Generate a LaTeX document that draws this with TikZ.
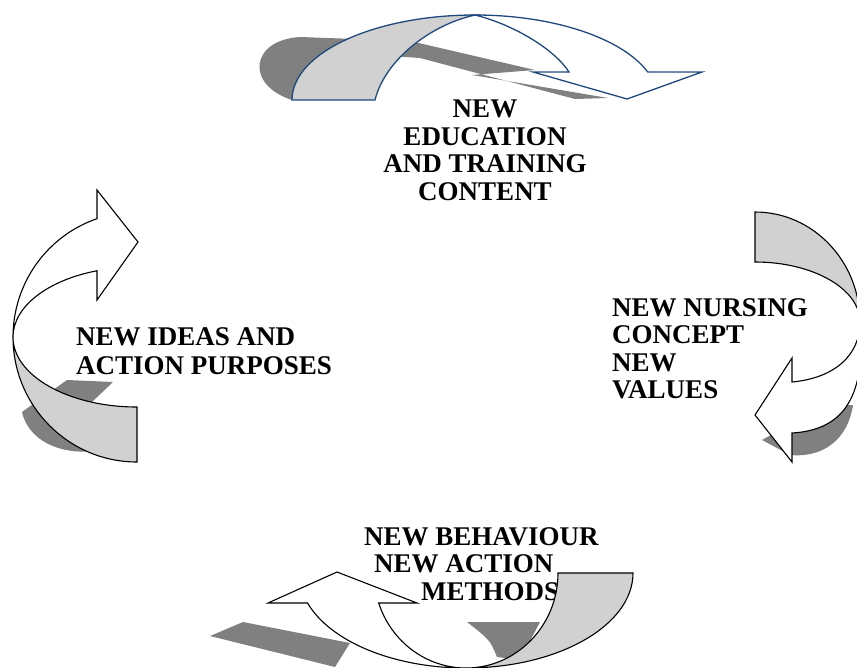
\documentclass[tikz,border=0pt]{standalone}
\usepackage{fontspec}
\setmainfont{Liberation Serif}
\usetikzlibrary{calc}
\definecolor{bandgray}{gray}{0.82}
\definecolor{shadegray}{gray}{0.5}
\definecolor{darkblue}{RGB}{31,73,125}
\begin{document}
\begin{tikzpicture}[x=1pt,y=-1pt,
	every node/.style={font=\bfseries\fontsize{27}{27.5}\selectfont, inner sep=0pt},
	band/.style={draw=black, line width=1.1pt, line join=miter},
	topband/.style={draw=darkblue, line width=1.3pt, line join=miter}]

\useasboundingbox (0,0) rectangle (857,667);

% centres of the four curved arrows
\coordinate (ct) at (475,100);
\coordinate (cl) at (137,337);
\coordinate (cr) at (755,322);
\coordinate (cb) at (466,573);

% shadows
\fill[shadegray] (292,100) .. controls (245,85) and (250,40) .. (300,37)
	-- (410,41) -- (535,70) -- (472,75) -- (608,98) -- (575,99)
	-- (420,58) -- (392,56) -- (370,99) -- cycle;
\fill[shadegray] (67,380) -- (113,382) -- (92,402) -- (120,420) -- (100,450)
	.. controls (70,456) and (30,446) .. (22,412) -- cycle;
\fill[shadegray] (762,440) -- (790,455) .. controls (825,458) and (848,438) .. (853,405)
	-- (835,405) -- (780,430) -- cycle;
\fill[shadegray] (210,636) -- (243,622) -- (350,643) -- (335,667) -- cycle;
\fill[shadegray] (467,622) -- (540,622) -- (520,660) -- (497,657)
	.. controls (490,640) .. cycle;

% texts
\node[align=center, anchor=north] (educ) at (485,100)
	{NEW\\EDUCATION\\AND TRAINING\\CONTENT};
\node[align=left, anchor=north west] (ideas) at (76,327)
	{NEW IDEAS AND\\[2pt]ACTION PURPOSES};
\node[align=left, anchor=north west] (nursing) at (612,298)
	{NEW NURSING\\CONCEPT\\NEW\\VALUES};
\node[align=left, anchor=north west] (behav) at (364,527)
	{NEW BEHAVIOUR\\\hspace*{10pt}NEW ACTION\\\hspace*{57pt}METHODS};

% top arrow
\filldraw[topband, fill=bandgray] (ct) ++(180:183 and 85)
	arc[start angle=180, end angle=270, x radius=183, y radius=85]
	.. controls (430,25) and (385,60) .. (375,100) -- cycle;
\filldraw[topband, fill=white] (ct) ++(270:183 and 85)
	arc[start angle=270, end angle=340.8, x radius=183, y radius=85]
	-- (702,72) -- (627,99) -- (533,72) -- (569,72)
	.. controls (555,50) and (515,25) .. (475,15) -- cycle;

% left arrow
\coordinate (lin) at ($(cl)+(251.2:124 and 70)$);
\filldraw[band, fill=bandgray] (cl) ++(180:124 and 125)
	arc[start angle=180, end angle=90, x radius=124, y radius=125]
	-- ++(0,-55)
	arc[start angle=90, end angle=180, x radius=124, y radius=70] -- cycle;
\filldraw[band, fill=white] (cl) ++(180:124 and 125)
	arc[start angle=180, end angle=251.2, x radius=124, y radius=125]
	-- (97,190) -- (138,242) -- (97,300) -- (lin)
	arc[start angle=251.2, end angle=180, x radius=124, y radius=70] -- cycle;

% right arrow
\filldraw[band, fill=bandgray] (cr) ++(270:105 and 110)
	arc[start angle=270, end angle=360, x radius=105, y radius=110]
	arc[start angle=0, end angle=-90, x radius=105, y radius=60] -- cycle;
\filldraw[band, fill=white] (cr) ++(0:105 and 110)
	.. controls (866,395) and (845,430) .. (792,433)
	-- (792,462) -- (755,415) -- (792,358) -- (792,382)
	.. controls (835,378) and (860,355) .. (860,322) -- cycle;

% bottom arrow
\coordinate (bin) at ($(cb)+(161.6:92 and 95)$);
\filldraw[band, fill=bandgray] (cb) ++(0:167 and 95)
	arc[start angle=0, end angle=90, x radius=167, y radius=95]
	arc[start angle=90, end angle=0, x radius=92, y radius=95] -- cycle;
\filldraw[band, fill=white] (cb) ++(90:167 and 95)
	arc[start angle=90, end angle=161.6, x radius=167, y radius=95]
	-- (268,603) -- (337,572) -- (417,603) -- (bin)
	arc[start angle=161.6, end angle=90, x radius=92, y radius=95] -- cycle;

\end{tikzpicture}
\end{document}
